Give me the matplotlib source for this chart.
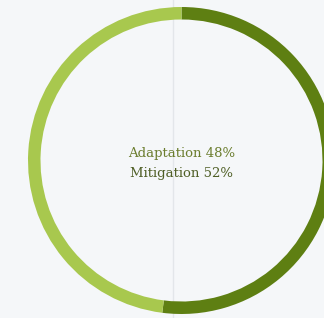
import matplotlib
matplotlib.use("Agg")
import matplotlib.pyplot as plt

# ── Data ───────────────────────────────────────────────────────────────────
labels = ["Mitigation", "Adaptation"]
shares = [52, 48]
colors = ["#5e7f12", "#a8c84e"]

BG = "#f5f7f9"

fig = plt.figure(figsize=(3.24, 3.18), dpi=100)
fig.patch.set_facecolor(BG)
ax = fig.add_axes([0, 0, 1, 1])
ax.set_facecolor(BG)

# faint vertical guide line behind the ring
ax.axvline(172.5, color="#e3e6ea", linewidth=1.0, zorder=0)

ax.pie(
    shares,
    colors=colors,
    startangle=90,
    counterclock=False,
    center=(181.5, 157.5),
    radius=153.5,
    wedgeprops=dict(width=12.5, linewidth=0),
    frame=True,
)
ax.set_xlim(0, 324)
ax.set_ylim(0, 318)
ax.set_aspect("equal")
ax.axis("off")

text_lines = [f"{labels[1]} {shares[1]}%", f"{labels[0]} {shares[0]}%"]
ax.text(181.5, 318 - 153, text_lines[0], ha="center", va="center",
        fontsize=9.5, family="DejaVu Serif", color="#6b7d2e")
ax.text(181.5, 318 - 174, text_lines[1], ha="center", va="center",
        fontsize=9.5, family="DejaVu Serif", color="#4f5f26")

fig.savefig("out.png", dpi=100, facecolor=BG)
